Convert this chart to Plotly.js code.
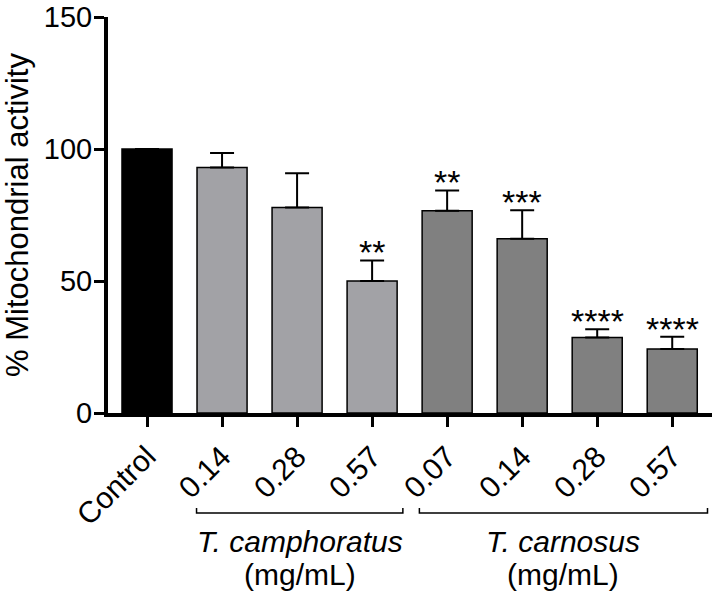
<!DOCTYPE html>
<html>
<head>
<meta charset="utf-8">
<script src="https://cdn.plot.ly/plotly-3.0.1.min.js"></script>
<style>html,body{margin:0;padding:0;background:#fff;}#chart{width:714px;height:595px;}</style>
</head>
<body>
<div id="chart"></div>
<script>
// ---- data ----
const tickLabels = ["Control", "0.14", "0.28", "0.57", "0.07", "0.14", "0.28", "0.57"];
const groups = ["control", "camphoratus", "camphoratus", "camphoratus", "carnosus", "carnosus", "carnosus", "carnosus"];
const activity = [100, 93.0, 77.8, 50.0, 76.6, 66.0, 28.6, 24.2];
const sem = [0, 5.5, 13.0, 7.8, 7.7, 10.8, 3.1, 4.7];
const significance = ["", "", "", "**", "**", "***", "****", "****"];
const groupNames = {camphoratus: "<i>T. camphoratus</i>", carnosus: "<i>T. carnosus</i>"};
const groupUnit = "(mg/mL)";
const yTicks = [0, 50, 100, 150];

const groupColors = {control: "#000000", camphoratus: "#a2a2a6", carnosus: "#808080"};
const idx = tickLabels.map((_, i) => i);

const FONT = "Arial, 'Liberation Sans', Helvetica, sans-serif";

const trace = {
  type: "bar",
  x: idx,
  y: activity,
  width: 0.667,
  marker: {color: groups.map(g => groupColors[g]), line: {color: "#000", width: 1.5}},
  error_y: {type: "data", symmetric: false, array: sem, arrayminus: sem.map(() => 0),
            color: "#000", thickness: 2, width: 12, visible: true},
  hoverinfo: "skip"
};

const annotations = [];
idx.forEach(i => {
  if (significance[i]) {
    annotations.push({x: i, y: activity[i] + sem[i], xref: "x", yref: "y", text: significance[i],
      showarrow: false, yanchor: "bottom", yshift: -13, font: {family: FONT, size: 34, color: "#000"}});
  }
});

// plot area: top at 17 px, bottom (y=0) at 413 px
const PH = 396;
const py = px => (413 - px) / PH;

// group brackets
const shapes = [];
function bracket(x0, x1) {
  const yb = py(513), yh = py(508);
  shapes.push({type: "path", xref: "x", yref: "paper",
    path: `M ${x0} ${yh} L ${x0} ${yb} L ${x1} ${yb} L ${x1} ${yh}`,
    line: {color: "#000", width: 1.5}});
}
function groupLabel(name, xc) {
  annotations.push({x: xc, y: py(541.3), xref: "x", yref: "paper", text: groupNames[name],
    showarrow: false, yanchor: "middle", font: {family: FONT, size: 30, color: "#000"}});
  annotations.push({x: xc, y: py(574.5), xref: "x", yref: "paper", text: groupUnit,
    showarrow: false, yanchor: "middle", font: {family: FONT, size: 30, color: "#000"}});
}
const camIdx = idx.filter(i => groups[i] === "camphoratus");
const carIdx = idx.filter(i => groups[i] === "carnosus");
const cam0 = camIdx[0] - 0.34, cam1 = camIdx[camIdx.length - 1] + 0.41;
const car0 = carIdx[0] - 0.37, car1 = carIdx[carIdx.length - 1] + 0.47;
bracket(cam0, cam1);
bracket(car0, car1);
groupLabel("camphoratus", (cam0 + cam1) / 2);
groupLabel("carnosus", (car0 + car1) / 2);

const layout = {
  width: 714, height: 595,
  margin: {l: 108, r: 2, t: 17, b: 182},
  paper_bgcolor: "#fff", plot_bgcolor: "#fff",
  showlegend: false,
  font: {family: FONT, color: "#000"},
  xaxis: {
    range: [-0.52, 7.53], tickmode: "array", tickvals: idx, ticktext: tickLabels,
    tickangle: -45, ticks: "outside", ticklen: 10, tickwidth: 3, tickcolor: "#000",
    showline: true, linewidth: 4, linecolor: "#000", showgrid: false, zeroline: false,
    tickfont: {family: FONT, size: 30, color: "#000"}, automargin: false, fixedrange: true,
    ticklabeloverflow: "allow"
  },
  yaxis: {
    range: [0, 150], tickmode: "array", tickvals: yTicks, ticks: "outside", ticklen: 10, tickwidth: 3,
    tickcolor: "#000", showline: true, linewidth: 4, linecolor: "#000", showgrid: false, zeroline: false,
    tickfont: {family: FONT, size: 29, color: "#000"}, automargin: false, fixedrange: true,
    ticklabeloverflow: "allow", ticklabelstandoff: -4,
    title: {text: "% Mitochondrial activity", font: {family: FONT, size: 31, color: "#000"}, standoff: 20}
  },
  shapes: shapes,
  annotations: annotations
};

Plotly.newPlot("chart", [trace], layout, {displayModeBar: false, staticPlot: true});
</script>
</body>
</html>
